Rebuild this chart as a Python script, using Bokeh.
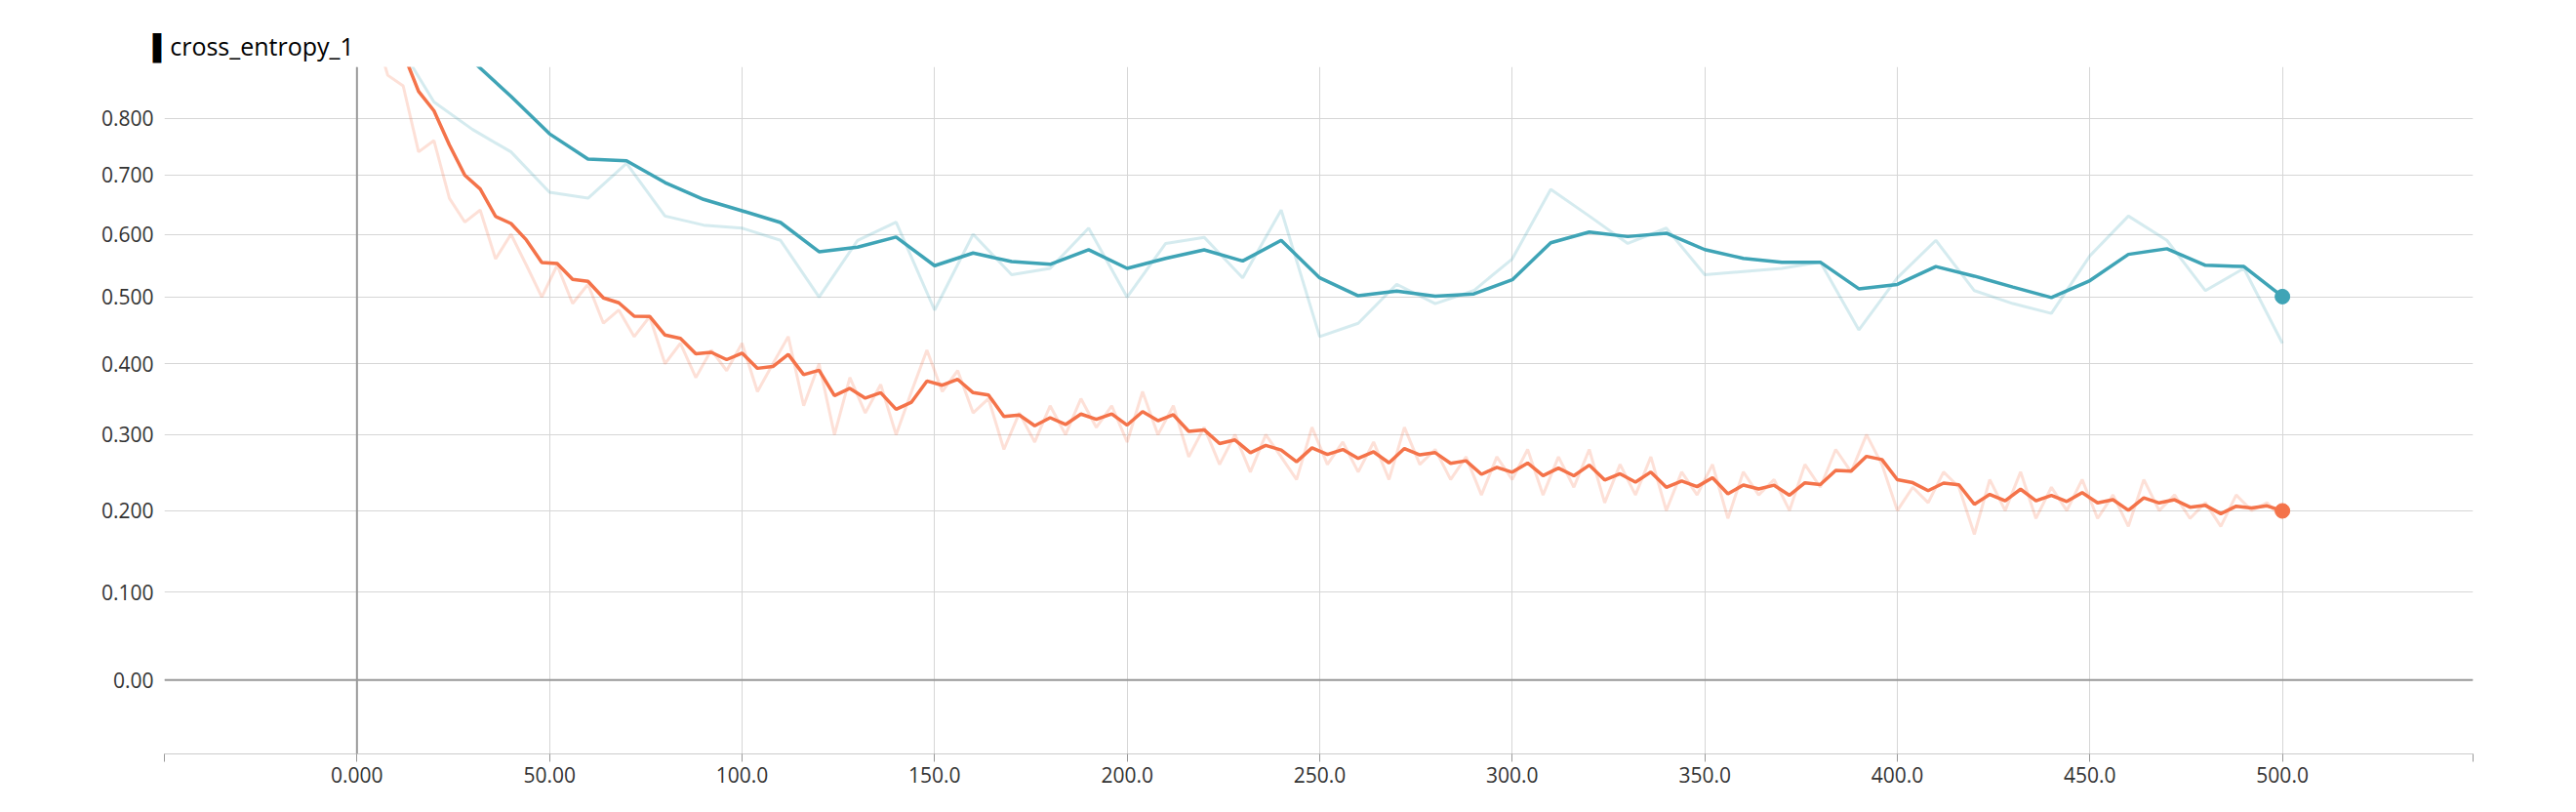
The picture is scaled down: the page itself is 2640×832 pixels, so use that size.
import numpy as np
from bokeh.plotting import figure
from bokeh.models import FixedTicker, Span
from bokeh.embed import file_html
from bokeh.resources import INLINE

val_steps = list(range(0, 501, 10))
val_raw = [1.20, 0.95, 0.83, 0.78, 0.74, 0.67, 0.66, 0.72, 0.63, 0.615, 0.61, 0.59, 0.50, 0.59, 0.62,
           0.48, 0.60, 0.535, 0.545, 0.61, 0.50, 0.585, 0.595, 0.53, 0.64, 0.44, 0.46, 0.52, 0.49,
           0.51, 0.56, 0.675, 0.63, 0.585, 0.61, 0.535, 0.54, 0.545, 0.555, 0.45, 0.53, 0.59, 0.51,
           0.49, 0.475, 0.565, 0.63, 0.59, 0.51, 0.545, 0.43]
train_raw = [1.05, 0.98, 0.88, 0.86, 0.74, 0.76, 0.66, 0.62, 0.64, 0.56, 0.60, 0.55, 0.50, 0.55, 0.49,
             0.52, 0.46, 0.48, 0.44, 0.47, 0.40, 0.43, 0.38, 0.42, 0.39, 0.43, 0.36, 0.40, 0.44, 0.34,
             0.40, 0.30, 0.38, 0.33, 0.37, 0.30, 0.36, 0.42, 0.36, 0.39, 0.33, 0.35, 0.28, 0.33, 0.29,
             0.34, 0.30, 0.35, 0.31, 0.34, 0.29, 0.36, 0.30, 0.34, 0.27, 0.31, 0.26, 0.30, 0.25, 0.30,
             0.27, 0.24, 0.31, 0.26, 0.29, 0.25, 0.29, 0.24, 0.31, 0.26, 0.28, 0.24, 0.27, 0.22, 0.27,
             0.24, 0.28, 0.22, 0.27, 0.23, 0.28, 0.21, 0.26, 0.22, 0.27, 0.20, 0.25, 0.22, 0.26, 0.19,
             0.25, 0.22, 0.24, 0.20, 0.26, 0.23, 0.28, 0.25, 0.30, 0.26, 0.20, 0.23, 0.21, 0.25, 0.23,
             0.17, 0.24, 0.20, 0.25, 0.19, 0.23, 0.20, 0.24, 0.19, 0.22, 0.18, 0.24, 0.20, 0.22, 0.19,
             0.21, 0.18, 0.22, 0.20, 0.21, 0.19]
train_steps = [4 * i for i in range(len(train_raw))]
y_ticks = [0.0, 0.1, 0.2, 0.3, 0.4, 0.5, 0.6, 0.7, 0.8]
y_labels = ["0.00", "0.100", "0.200", "0.300", "0.400", "0.500", "0.600", "0.700", "0.800"]
x_ticks = [-50, 0, 50, 100, 150, 200, 250, 300, 350, 400, 450, 500, 549.5]
x_labels = ["", "0.000", "50.00", "100.0", "150.0", "200.0", "250.0", "300.0", "350.0", "400.0", "450.0", "500.0", ""]

C = 1.2
def f(v):
    return np.log((np.asarray(v, dtype=float) + C) / C)

def ema(v, w=0.6):
    out, last = [], v[0]
    for x in v:
        last = last * w + x * (1 - w)
        out.append(last)
    return out

ORANGE = "#f4734a"
TEAL = "#3fa4b6"

p = figure(width=2620, height=816, output_backend="svg", toolbar_location=None,
           x_range=(-50, 549.5), y_range=(float(f(-0.078)), float(f(0.896))),
           min_border_left=168, min_border_right=86, min_border_top=68, min_border_bottom=44,
           title="▌cross_entropy_1")
p.title.text_font = "Open Sans"
p.title.text_font_size = "25px"
p.title.text_font_style = "normal"
p.title.text_color = "#000000"
p.title.offset = -12
p.outline_line_color = None

p.xaxis.ticker = FixedTicker(ticks=x_ticks)
p.xaxis.major_label_overrides = {t: l for t, l in zip(x_ticks, x_labels)}
p.yaxis.ticker = FixedTicker(ticks=[float(f(t)) for t in y_ticks])
p.yaxis.major_label_overrides = {float(f(t)): l for t, l in zip(y_ticks, y_labels)}
for ax in (p.xaxis, p.yaxis):
    ax.major_label_text_font = "Open Sans"
    ax.major_label_text_font_size = "21px"
    ax.major_label_text_color = "#333333"
    ax.minor_tick_line_color = None
p.yaxis.axis_line_color = None
p.yaxis.major_tick_line_color = None
p.xaxis.axis_line_color = "#cccccc"
p.xaxis.major_tick_line_color = "#999999"
p.xaxis.major_tick_out = 8
p.xaxis.major_tick_in = 0
p.xgrid.grid_line_color = "#d6d6d6"
p.ygrid.grid_line_color = "#d6d6d6"

p.add_layout(Span(location=0, dimension="height", line_color="#999999", line_width=2))
p.add_layout(Span(location=0.0, dimension="width", line_color="#999999", line_width=2))

p.line(val_steps, f(val_raw), line_color=TEAL, line_alpha=0.22, line_width=3)
p.line(train_steps, f(train_raw), line_color=ORANGE, line_alpha=0.22, line_width=3)
vs = ema(val_raw)
ts = ema(train_raw)
p.line(val_steps, f(vs), line_color=TEAL, line_width=3.5)
p.line(train_steps, f(ts), line_color=ORANGE, line_width=3.5)
p.scatter([val_steps[-1]], f([vs[-1]]), size=15, color=TEAL)
p.scatter([train_steps[-1]], f([ts[-1]]), size=15, color=ORANGE)

open("out.html", "w").write(file_html(p, INLINE))
